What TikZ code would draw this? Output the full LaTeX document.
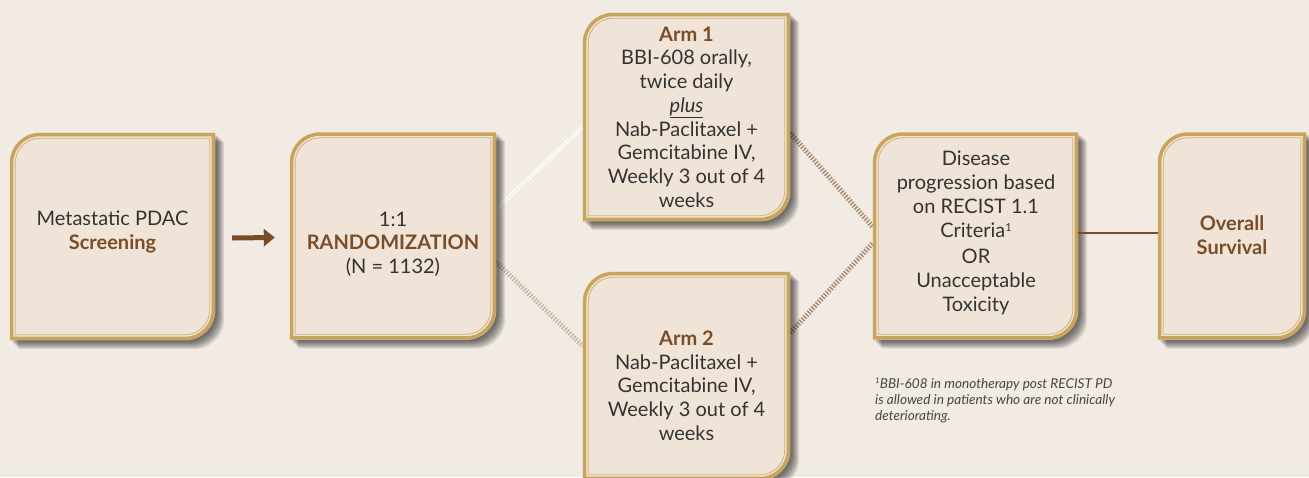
\documentclass[tikz,border=0pt]{standalone}
\usepackage{fontspec}
\setmainfont{Lato}
\usetikzlibrary{calc,arrows.meta}
\definecolor{bgc}{HTML}{F2EBE4}
\definecolor{boxfill}{HTML}{EFE4D7}
\definecolor{gold}{HTML}{C9A45C}
\definecolor{brn}{HTML}{7A4D28}
\definecolor{txt}{HTML}{333333}
\definecolor{hatchR}{HTML}{A98A6B}
\definecolor{hatchL}{HTML}{CBB6A3}
\pgfdeclarelayer{bg}
\pgfdeclarelayer{lines}
\pgfdeclarelayer{shadow}
\pgfdeclarelayer{boxes}
\pgfsetlayers{bg,lines,shadow,boxes,main}
% name, inset, dx, dy, options
\newcommand\bxshape[5]{\path[#5] ([shift={(#3+#2,#4+#2)}]#1.south west) -- ([shift={(#3+#2,#4-30)}]#1.north west) arc[start angle=180,end angle=90,radius=30pt-#2pt] -- ([shift={(#3-#2,#4-#2)}]#1.north east) -- ([shift={(#3-#2,#4+30)}]#1.south east) arc[start angle=0,end angle=-90,radius=30pt-#2pt] -- cycle;}
\newcommand\drawcard[1]{%
  \begin{pgfonlayer}{shadow}
    \foreach \s in {2,3,...,9} {\bxshape{#1}{0}{\s}{-\s}{fill=black,opacity=0.085}}
  \end{pgfonlayer}
  \begin{pgfonlayer}{boxes}
    \bxshape{#1}{0}{0}{0}{fill=boxfill}
    \bxshape{#1}{1.75}{0}{0}{draw=gold,line width=3.5pt}
    \bxshape{#1}{5.5}{0}{0}{draw=gold!85!white,line width=0.8pt}
  \end{pgfonlayer}}
\tikzset{
  cardbox/.style={rectangle,inner sep=0pt,minimum height=207pt},
  cardtext/.style={align=center,inner sep=0pt,text=txt,font=\fontsize{20}{23.7}\selectfont},
  hatch/.style={line width=5pt,dash pattern=on 1.4pt off 1.6pt}
}
\begin{document}
\begin{tikzpicture}[x=1pt,y=1pt]
\useasboundingbox (0,0) rectangle (1309,-477);
\begin{pgfonlayer}{bg}
\fill[bgc] (0,0) rectangle (1309,-477);
\end{pgfonlayer}
% cards
\node[cardbox,minimum width=205pt] (scr) at (112.5,-236.5) {};
\node[cardbox,minimum width=206pt] (rand) at (393,-236) {};
\node[cardbox,minimum width=207pt,minimum height=208pt] (arm1) at (686.5,-117) {};
\node[cardbox,minimum width=207pt,minimum height=208pt] (arm2) at (686.5,-376) {};
\node[cardbox,minimum width=205pt] (dis) at (975.5,-236) {};
\node[cardbox,minimum width=148pt] (os) at (1232,-236) {};
\drawcard{scr}\drawcard{rand}\drawcard{arm1}\drawcard{arm2}\drawcard{dis}\drawcard{os}
% texts
\node[cardtext] (tscr) at (112.5,-232) {Metastatic PDAC\\{\color{brn}\bfseries Screening}};
\node[cardtext] (trand) at (393,-244) {1:1\\{\color{brn}\bfseries RANDOMIZATION}\\(N = 1132)};
\node[cardtext] (tarm1) at (686.5,-117) {{\color{brn}\bfseries Arm 1}\\BBI-608 orally,\\twice daily\\\underline{\itshape plus}\\Nab-Paclitaxel +\\Gemcitabine IV,\\Weekly 3 out of 4\\weeks};
\node[cardtext] (tarm2) at (686.5,-385.5) {{\color{brn}\bfseries Arm 2}\\Nab-Paclitaxel +\\Gemcitabine IV,\\Weekly 3 out of 4\\weeks};
\node[cardtext] (tdis) at (976,-233) {Disease\\progression based\\on RECIST 1.1\\Criteria{\fontsize{11}{11}\selectfont\raisebox{6pt}{1}}\\[3pt]OR\\Unacceptable\\Toxicity};
\node[cardtext] (tos) at (1232,-235) {{\color{brn}\bfseries Overall}\\{\color{brn}\bfseries Survival}};
\node[align=left,anchor=north west,inner sep=0pt,text=txt!90!bgc,font=\fontsize{13.6}{16}\selectfont\itshape] (note) at (875,-378)
  {{\fontsize{8}{8}\selectfont\raisebox{4.5pt}{1}}BBI-608 in monotherapy post RECIST PD\\is allowed in patients who are not clinically\\deteriorating.};
% connectors
\begin{pgfonlayer}{lines}
\draw[hatch,white,opacity=0.95] ([yshift=27]rand.east) -- ([yshift=-10]arm1.west);
\draw[hatch,hatchL] ([yshift=-26]rand.east) -- ([yshift=30]arm2.west);
\draw[hatch,hatchR] ([yshift=-16]arm1.east) -- ([yshift=9]dis.west);
\draw[hatch,hatchR] ([yshift=43]arm2.east) -- ([yshift=-7]dis.west);
\end{pgfonlayer}
\draw[brn,line width=5pt,-{Triangle[length=11pt,width=17pt]}] ([xshift=17,yshift=-1.5]scr.east) -- ([xshift=-15,yshift=-1.5]rand.west);
\draw[brn,line width=2pt] ([yshift=3]dis.east) -- ([yshift=3]os.west);
\end{tikzpicture}
\end{document}
